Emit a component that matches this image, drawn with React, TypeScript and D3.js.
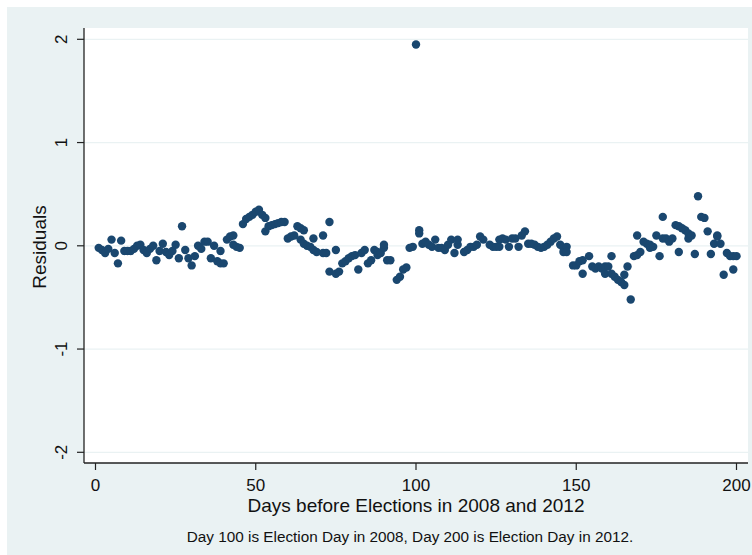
import React from "react";
import * as d3 from "d3";

// Residuals by day before the election (day 100 = 2008 Election Day, day 200 = 2012 Election Day)
const days: number[] = [
  1, 2, 3, 4, 5, 6, 7, 8, 9, 10, 11, 12, 13, 14, 15, 16, 17, 18, 19, 20,
  21, 22, 23, 24, 25, 26, 27, 28, 29, 30, 31, 32, 33, 34, 35, 36, 37, 38, 39, 39, 40,
  41, 42, 43, 43, 44, 45, 46, 47, 48, 49, 50, 51, 52, 53, 53, 54, 55, 56, 57, 58, 59,
  60, 61, 62, 63, 64, 64, 65, 65, 66, 67, 68, 68, 69, 71, 71, 72, 73, 73, 75, 75, 76,
  77, 78, 79, 80,
  81, 82, 83, 84, 85, 86, 87, 88, 88, 89, 90, 90, 91, 92, 94, 95, 96, 97, 98, 99, 100,
  101, 101, 102, 103, 104, 105, 106, 107, 108, 109, 110, 111, 112, 113, 113, 115, 116,
  117, 118, 119, 120,
  121, 123, 124, 125, 126, 126, 127, 128, 129, 130, 131, 132, 133, 134, 135, 136, 137,
  138, 139, 140, 141, 142, 143, 144, 145, 146, 146, 147, 147, 149, 150, 151, 152, 152,
  154, 155, 156, 157, 158, 159, 159, 160, 161, 161, 162,
  163, 164, 165, 165, 166, 167, 168, 169, 169, 170, 171, 172, 173, 173, 174, 175, 176,
  177, 177, 178, 179, 180, 181, 182, 182, 183, 184, 185, 185, 186, 187, 188, 189, 190,
  191, 192, 193, 194, 194, 195, 196, 197, 198, 199, 199, 200,
];

const residuals: number[] = [
  -0.02, -0.04, -0.07, -0.03, 0.06, -0.07, -0.17, 0.05, -0.05, -0.05, -0.05, -0.03, 0.0, 0.01,
  -0.04, -0.07, -0.03, 0.0, -0.14, -0.05,
  0.02, -0.06, -0.09, -0.05, 0.01, -0.12, 0.19, -0.04, -0.12, -0.19, -0.1, 0.0, -0.03, 0.04,
  0.04, -0.12, 0.0, -0.15, -0.05, -0.17, -0.17,
  0.06, 0.09, 0.01, 0.1, -0.01, -0.02, 0.21, 0.26, 0.28, 0.3, 0.33, 0.35, 0.3, 0.27, 0.14, 0.19,
  0.2, 0.21, 0.22, 0.23, 0.23,
  0.07, 0.09, 0.1, 0.19, 0.06, 0.17, 0.15, 0.02, 0.0, -0.01, 0.07, -0.04, -0.06, -0.07, 0.1,
  -0.07, 0.23, -0.25, -0.04, -0.27, -0.25,
  -0.17, -0.15, -0.12, -0.1,
  -0.09, -0.23, -0.07, -0.04, -0.17, -0.14, -0.04, -0.06, -0.09, -0.07, -0.02, 0.01, -0.14,
  -0.14, -0.33, -0.3, -0.23, -0.21, -0.02, -0.01, 1.95,
  0.12, 0.15, 0.02, 0.04, 0.01, -0.01, 0.06, -0.02, -0.02, -0.04, 0.01, 0.06, -0.07, 0.01, 0.06,
  -0.06, -0.04, -0.01, -0.01, 0.01, 0.09,
  0.06, 0.01, -0.01, -0.01, -0.01, 0.06, 0.07, 0.06, -0.01, 0.07, 0.07, -0.01, 0.1, 0.14, 0.02,
  0.02, 0.01, -0.01, -0.02, -0.01, 0.01, 0.04, 0.07, 0.09, 0.01, -0.02, -0.06, -0.01, -0.06,
  -0.19, -0.19, -0.15, -0.14, -0.27, -0.1, -0.2, -0.22, -0.2, -0.22, -0.27, -0.2, -0.2, -0.1,
  -0.27, -0.3,
  -0.33, -0.35, -0.38, -0.28, -0.2, -0.52, -0.1, 0.1, -0.09, -0.06, 0.04, 0.02, 0.01, -0.02,
  -0.01, 0.1, -0.1, 0.28, 0.07, 0.07, 0.04, 0.07, 0.2, 0.19, -0.06, 0.17, 0.15, 0.12, 0.07, 0.1,
  -0.08, 0.48, 0.28, 0.27, 0.14, -0.08, 0.02, 0.1, 0.09, 0.02, -0.28, -0.07, -0.1, -0.1, -0.23,
  -0.1,
];

const xTicks: number[] = [0, 50, 100, 150, 200];
const yTicks: number[] = [-2, -1, 0, 1, 2];

const xTitle = "Days before Elections in 2008 and 2012";
const yTitle = "Residuals";
const note = "Day 100 is Election Day in 2008, Day 200 is Election Day in 2012.";

const W = 752;
const H = 555;
const BG = "#eaf2f3";
const MARKER = "#1a476f";
const FONT = "'Liberation Sans', Arial, Helvetica, sans-serif";

// plot region
const plot = { left: 84, right: 748, top: 28, bottom: 463 };

export default function App() {
  const x = d3.scaleLinear().domain([0, 200]).range([95.5, 736.5]);
  const y = d3.scaleLinear().domain([-2, 2]).range([452.3, 39.3]);

  const points = days.map((d, i) => ({ day: d, r: residuals[i] }));

  return (
    <svg
      width={W}
      height={H}
      style={{ position: "fixed", left: 0, top: 0, display: "block" }}
      fontFamily={FONT}
    >
      <rect x={0} y={0} width={W} height={H} fill="#ffffff" />
      <rect x={7} y={7} width={W - 7} height={H - 7} fill={BG} />
      <rect
        x={plot.left}
        y={plot.top}
        width={plot.right - plot.left}
        height={plot.bottom - plot.top}
        fill="#ffffff"
      />

      {/* horizontal grid lines */}
      {yTicks.map((t) => (
        <line
          key={`g${t}`}
          x1={plot.left}
          x2={plot.right}
          y1={y(t)}
          y2={y(t)}
          stroke={BG}
          strokeWidth={1.2}
        />
      ))}

      {/* markers */}
      {points.map((p, i) => (
        <circle key={i} cx={x(p.day)} cy={y(p.r)} r={4.2} fill={MARKER} />
      ))}

      {/* y axis */}
      <line x1={plot.left} x2={plot.left} y1={plot.top} y2={plot.bottom} stroke="#222" strokeWidth={1.3} />
      {yTicks.map((t) => (
        <g key={`y${t}`}>
          <line x1={plot.left - 7} x2={plot.left} y1={y(t)} y2={y(t)} stroke="#222" strokeWidth={1.2} />
          <text
            transform={`translate(66.5,${y(t)}) rotate(-90)`}
            textAnchor="middle"
            fontSize={17}
            fill="#111"
          >
            {t}
          </text>
        </g>
      ))}
      <text
        transform={`translate(45.5,247) rotate(-90)`}
        textAnchor="middle"
        fontSize={19}
        fill="#111"
      >
        {yTitle}
      </text>

      {/* x axis */}
      <line x1={plot.left} x2={plot.right} y1={plot.bottom} y2={plot.bottom} stroke="#222" strokeWidth={1.3} />
      {xTicks.map((t) => (
        <g key={`x${t}`}>
          <line x1={x(t)} x2={x(t)} y1={plot.bottom} y2={plot.bottom + 7} stroke="#222" strokeWidth={1.2} />
          <text x={x(t)} y={491} textAnchor="middle" fontSize={17} fill="#111">
            {t}
          </text>
        </g>
      ))}
      <text x={416} y={512} textAnchor="middle" fontSize={19} fill="#111">
        {xTitle}
      </text>
      <text x={410} y={542} textAnchor="middle" fontSize={15.3} fill="#111">
        {note}
      </text>
    </svg>
  );
}
